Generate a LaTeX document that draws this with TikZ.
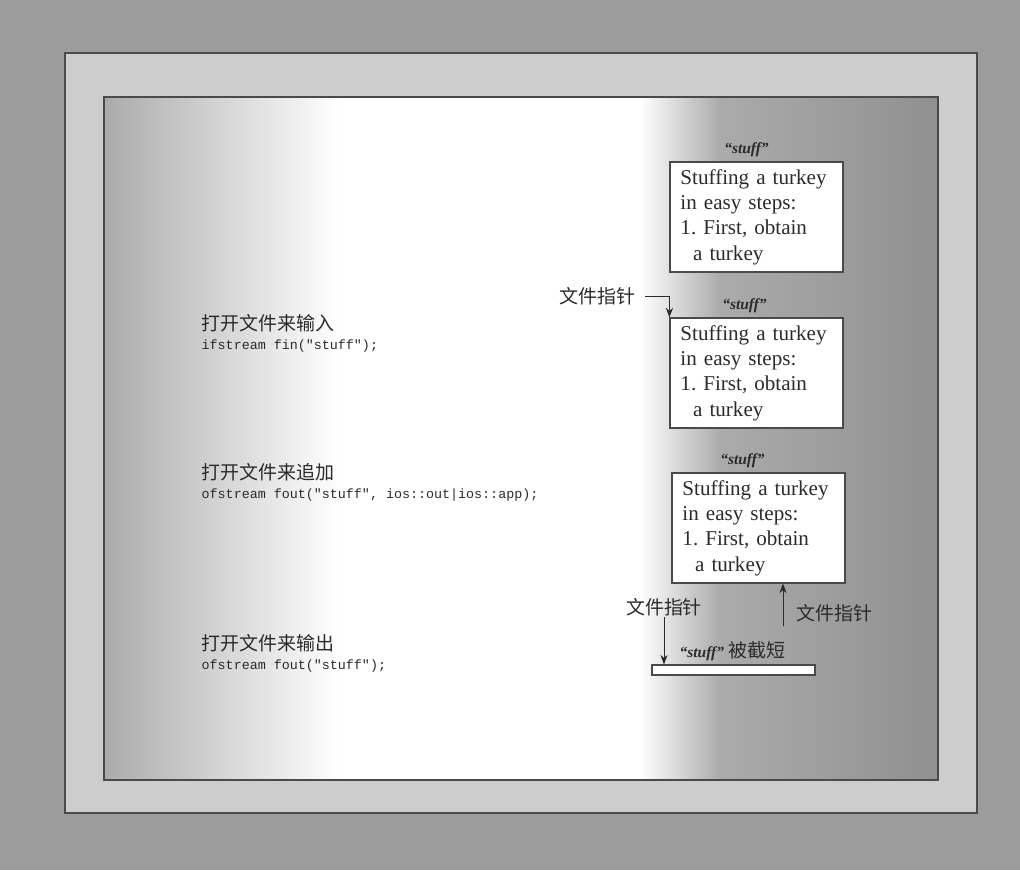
\documentclass[tikz,border=0pt]{standalone}
\usepackage{fontspec}
\setmainfont{Liberation Serif}
\setmonofont{Liberation Mono}
\newfontfamily\cjk{Noto Sans CJK SC}
\usetikzlibrary{arrows.meta,positioning}
\frenchspacing
\definecolor{streamPage}{HTML}{9C9C9C}
\definecolor{streamBand}{HTML}{CDCDCD}
\definecolor{streamShade}{HTML}{ABABAB}
\definecolor{streamDark}{HTML}{909090}
\definecolor{streamInk}{HTML}{2B2B2B}
\definecolor{streamRule}{HTML}{4A4A4A}
\tikzset{
  streamFile/.style={
    draw=streamRule,
    fill=white,
    line width=0.8pt,
    minimum width=4.325cm,
    minimum height=2.75cm,
    text width=3.8cm,
    align=left,
    inner xsep=0.25cm,
    text=streamInk,
    font=\fontsize{15}{18}\selectfont
  },
  streamName/.style={
    text=streamInk,
    inner sep=1pt,
    font=\fontsize{11}{13}\selectfont\bfseries\itshape
  },
  streamLabel/.style={
    text=streamInk,
    inner sep=1pt,
    font=\cjk\fontsize{13.5}{15}\selectfont
  },
  streamCode/.style={
    text=streamInk,
    inner sep=1pt,
    font=\ttfamily\fontsize{9.5}{11}\selectfont
  },
  streamArrow/.style={
    -{Stealth[length=2.4mm,width=1.8mm]},
    draw=streamInk,
    line width=0.7pt
  }
}

\begin{document}
\begin{tikzpicture}[x=0.025cm, y=-0.025cm]
\useasboundingbox (0,0) rectangle (1020,870);
\fill[streamPage] (0,0) rectangle (1020,870);
% frame and panel
\fill[streamBand] (65,53) rectangle (977,813);
\draw[streamRule, line width=0.8pt] (65,53) rectangle (977,813);
\shade[left color=streamShade, right color=white] (104,97) rectangle (340,780);
\fill[white] (340,97) rectangle (640,780);
\shade[left color=white, right color=streamShade] (640,97) rectangle (720,780);
\shade[left color=streamShade, right color=streamDark] (720,97) rectangle (938,780);
\draw[streamRule, line width=0.8pt] (104,97) rectangle (938,780);

% the three ways to open
\node[streamLabel, anchor=west] (inHead) at (200,323) {打开文件来输入};
\node[streamCode, below right=3pt and 0pt of inHead.south west] (inCode)
  {ifstream fin("stuff");};
\node[streamLabel, anchor=west] (appHead) at (200,472) {打开文件来追加};
\node[streamCode, below right=3pt and 0pt of appHead.south west] (appCode)
  {ofstream fout("stuff", ios::out|ios::app);};
\node[streamLabel, anchor=west] (outHead) at (200,643) {打开文件来输出};
\node[streamCode, below right=3pt and 0pt of outHead.south west] (outCode)
  {ofstream fout("stuff");};

% files
\node[streamFile] (fileA) at (756.5,217)
  {Stuffing a turkey\\in easy steps:\\1. First, obtain\\\hspace{0.6em}a turkey};
\node[streamName, above=2pt of fileA, xshift=-0.25cm] (nameA) {``stuff''};
\node[streamFile] (fileB) at (756.5,373)
  {Stuffing a turkey\\in easy steps:\\1. First, obtain\\\hspace{0.6em}a turkey};
\node[streamName, above=2pt of fileB, xshift=-0.3cm] (nameB) {``stuff''};
\node[streamFile] (fileC) at (758.5,528)
  {Stuffing a turkey\\in easy steps:\\1. First, obtain\\\hspace{0.6em}a turkey};
\node[streamName, above=2pt of fileC, xshift=-0.4cm] (nameC) {``stuff''};
\node[draw=streamRule, fill=white, line width=0.8pt, minimum width=4.075cm,
      minimum height=0.25cm, inner sep=0pt] (fileD) at (733.5,670) {};
\node[streamLabel, anchor=west] (truncNote) at (678,651)
  {{\rmfamily\fontsize{11}{13}\selectfont\bfseries\itshape ``stuff''}\ 被截短};

% file pointers
\node[streamLabel, anchor=east] (ptrA) at (637,296) {文件指针};
\draw[streamArrow, shorten <=2mm] (ptrA.east) -| (fileB.north west);
\node[streamLabel] (ptrC) at (664,607) {文件指针};
\draw[streamArrow] (ptrC.south) -- (ptrC.south |- fileD.north);
\node[streamLabel, anchor=west] (ptrD) at (795,613) {文件指针};
\coordinate (ptrDfoot) at (783,626);
\draw[streamArrow] (ptrDfoot) -- (ptrDfoot |- fileC.south);
\end{tikzpicture}
\end{document}
